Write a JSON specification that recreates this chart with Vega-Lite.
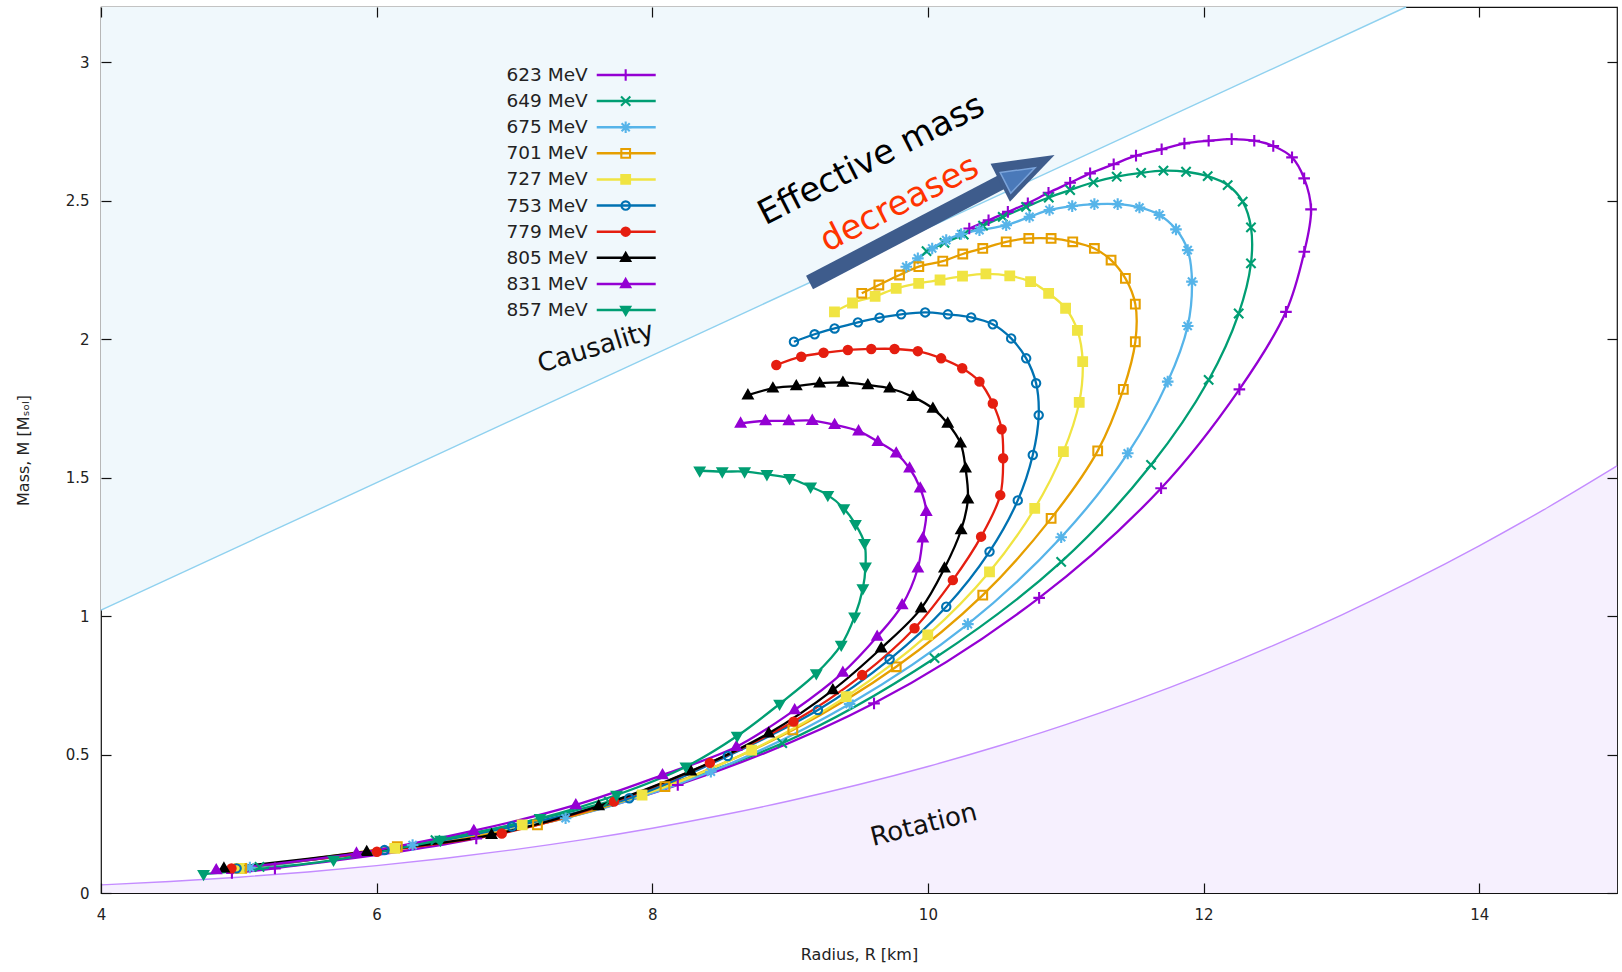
{
  "$schema": "https://vega.github.io/schema/vega-lite/v6.json",
  "width": 1516,
  "height": 886,
  "autosize": {"type": "none"},
  "padding": {"left": 101, "top": 7, "right": 5, "bottom": 79},
  "background": "white",
  "config": {"view": {"stroke": "#111", "strokeWidth": 1.2}, "font": "DejaVu Sans"},
  "datasets": {
    "one": [{"k": 1}],
    "causality": [{"R": 4, "M": 1.022}, {"R": 13.47, "M": 3.2}],
    "rotation": [
      {"R": 4, "M": 0.0292}, {"R": 4.5, "M": 0.0416}, {"R": 5, "M": 0.0571}, {"R": 5.5, "M": 0.076},
      {"R": 6, "M": 0.0987}, {"R": 6.5, "M": 0.1255}, {"R": 7, "M": 0.1568}, {"R": 7.5, "M": 0.1928},
      {"R": 8, "M": 0.234}, {"R": 8.5, "M": 0.2807}, {"R": 9, "M": 0.3332}, {"R": 9.5, "M": 0.3918},
      {"R": 10, "M": 0.457}, {"R": 10.5, "M": 0.529}, {"R": 11, "M": 0.6083}, {"R": 11.5, "M": 0.695},
      {"R": 12, "M": 0.7897}, {"R": 12.5, "M": 0.8926}, {"R": 13, "M": 1.004}, {"R": 13.5, "M": 1.1244},
      {"R": 14, "M": 1.254}, {"R": 14.5, "M": 1.3932}, {"R": 15, "M": 1.5424}
    ],
    "legend": [
      {"eos": "623 MeV"}, {"eos": "649 MeV"}, {"eos": "675 MeV"}, {"eos": "701 MeV"}, {"eos": "727 MeV"},
      {"eos": "753 MeV"}, {"eos": "779 MeV"}, {"eos": "805 MeV"}, {"eos": "831 MeV"}, {"eos": "857 MeV"}
    ],
    "curves": [
      {"eos": "623 MeV", "i": 0, "R": 4.95, "M": 0.072},
      {"eos": "623 MeV", "i": 1, "R": 5.262, "M": 0.089},
      {"eos": "623 MeV", "i": 2, "R": 6.723, "M": 0.197},
      {"eos": "623 MeV", "i": 3, "R": 8.185, "M": 0.39},
      {"eos": "623 MeV", "i": 4, "R": 9.609, "M": 0.685},
      {"eos": "623 MeV", "i": 5, "R": 10.807, "M": 1.066},
      {"eos": "623 MeV", "i": 6, "R": 11.692, "M": 1.462},
      {"eos": "623 MeV", "i": 7, "R": 12.26, "M": 1.819},
      {"eos": "623 MeV", "i": 8, "R": 12.598, "M": 2.099},
      {"eos": "623 MeV", "i": 9, "R": 12.731, "M": 2.316},
      {"eos": "623 MeV", "i": 10, "R": 12.78, "M": 2.469},
      {"eos": "623 MeV", "i": 11, "R": 12.73, "M": 2.581},
      {"eos": "623 MeV", "i": 12, "R": 12.642, "M": 2.657},
      {"eos": "623 MeV", "i": 13, "R": 12.506, "M": 2.698},
      {"eos": "623 MeV", "i": 14, "R": 12.368, "M": 2.717},
      {"eos": "623 MeV", "i": 15, "R": 12.204, "M": 2.723},
      {"eos": "623 MeV", "i": 16, "R": 12.037, "M": 2.717},
      {"eos": "623 MeV", "i": 17, "R": 11.861, "M": 2.707},
      {"eos": "623 MeV", "i": 18, "R": 11.696, "M": 2.686},
      {"eos": "623 MeV", "i": 19, "R": 11.51, "M": 2.663},
      {"eos": "623 MeV", "i": 20, "R": 11.348, "M": 2.632},
      {"eos": "623 MeV", "i": 21, "R": 11.177, "M": 2.599},
      {"eos": "623 MeV", "i": 22, "R": 11.032, "M": 2.565},
      {"eos": "623 MeV", "i": 23, "R": 10.875, "M": 2.529},
      {"eos": "623 MeV", "i": 24, "R": 10.725, "M": 2.491},
      {"eos": "623 MeV", "i": 25, "R": 10.58, "M": 2.46},
      {"eos": "623 MeV", "i": 26, "R": 10.44, "M": 2.43},
      {"eos": "623 MeV", "i": 27, "R": 10.3, "M": 2.4},

      {"eos": "649 MeV", "i": 0, "R": 5.15, "M": 0.094},
      {"eos": "649 MeV", "i": 1, "R": 6.427, "M": 0.191},
      {"eos": "649 MeV", "i": 2, "R": 7.685, "M": 0.33},
      {"eos": "649 MeV", "i": 3, "R": 8.943, "M": 0.541},
      {"eos": "649 MeV", "i": 4, "R": 10.048, "M": 0.848},
      {"eos": "649 MeV", "i": 5, "R": 10.967, "M": 1.196},
      {"eos": "649 MeV", "i": 6, "R": 11.619, "M": 1.546},
      {"eos": "649 MeV", "i": 7, "R": 12.037, "M": 1.853},
      {"eos": "649 MeV", "i": 8, "R": 12.255, "M": 2.093},
      {"eos": "649 MeV", "i": 9, "R": 12.344, "M": 2.274},
      {"eos": "649 MeV", "i": 10, "R": 12.344, "M": 2.404},
      {"eos": "649 MeV", "i": 11, "R": 12.284, "M": 2.497},
      {"eos": "649 MeV", "i": 12, "R": 12.175, "M": 2.557},
      {"eos": "649 MeV", "i": 13, "R": 12.03, "M": 2.589},
      {"eos": "649 MeV", "i": 14, "R": 11.873, "M": 2.605},
      {"eos": "649 MeV", "i": 15, "R": 11.709, "M": 2.609},
      {"eos": "649 MeV", "i": 16, "R": 11.547, "M": 2.601},
      {"eos": "649 MeV", "i": 17, "R": 11.37, "M": 2.587},
      {"eos": "649 MeV", "i": 18, "R": 11.201, "M": 2.567},
      {"eos": "649 MeV", "i": 19, "R": 11.032, "M": 2.539},
      {"eos": "649 MeV", "i": 20, "R": 10.877, "M": 2.512},
      {"eos": "649 MeV", "i": 21, "R": 10.712, "M": 2.478},
      {"eos": "649 MeV", "i": 22, "R": 10.543, "M": 2.442},
      {"eos": "649 MeV", "i": 23, "R": 10.4, "M": 2.41},
      {"eos": "649 MeV", "i": 24, "R": 10.26, "M": 2.378},
      {"eos": "649 MeV", "i": 25, "R": 10.12, "M": 2.348},
      {"eos": "649 MeV", "i": 26, "R": 9.99, "M": 2.318},

      {"eos": "675 MeV", "i": 0, "R": 5.08, "M": 0.092},
      {"eos": "675 MeV", "i": 1, "R": 6.261, "M": 0.173},
      {"eos": "675 MeV", "i": 2, "R": 7.371, "M": 0.27},
      {"eos": "675 MeV", "i": 3, "R": 8.425, "M": 0.438},
      {"eos": "675 MeV", "i": 4, "R": 9.432, "M": 0.683},
      {"eos": "675 MeV", "i": 5, "R": 10.29, "M": 0.971},
      {"eos": "675 MeV", "i": 6, "R": 10.967, "M": 1.285},
      {"eos": "675 MeV", "i": 7, "R": 11.45, "M": 1.588},
      {"eos": "675 MeV", "i": 8, "R": 11.74, "M": 1.847},
      {"eos": "675 MeV", "i": 9, "R": 11.885, "M": 2.048},
      {"eos": "675 MeV", "i": 10, "R": 11.916, "M": 2.208},
      {"eos": "675 MeV", "i": 11, "R": 11.885, "M": 2.322},
      {"eos": "675 MeV", "i": 12, "R": 11.8, "M": 2.397},
      {"eos": "675 MeV", "i": 13, "R": 11.68, "M": 2.449},
      {"eos": "675 MeV", "i": 14, "R": 11.535, "M": 2.476},
      {"eos": "675 MeV", "i": 15, "R": 11.377, "M": 2.488},
      {"eos": "675 MeV", "i": 16, "R": 11.208, "M": 2.488},
      {"eos": "675 MeV", "i": 17, "R": 11.047, "M": 2.481},
      {"eos": "675 MeV", "i": 18, "R": 10.882, "M": 2.467},
      {"eos": "675 MeV", "i": 19, "R": 10.737, "M": 2.442},
      {"eos": "675 MeV", "i": 20, "R": 10.568, "M": 2.412},
      {"eos": "675 MeV", "i": 21, "R": 10.374, "M": 2.394},
      {"eos": "675 MeV", "i": 22, "R": 10.241, "M": 2.38},
      {"eos": "675 MeV", "i": 23, "R": 10.133, "M": 2.358},
      {"eos": "675 MeV", "i": 24, "R": 10.031, "M": 2.328},
      {"eos": "675 MeV", "i": 25, "R": 9.927, "M": 2.292},
      {"eos": "675 MeV", "i": 26, "R": 9.843, "M": 2.262},

      {"eos": "701 MeV", "i": 0, "R": 5.021, "M": 0.089},
      {"eos": "701 MeV", "i": 1, "R": 6.15, "M": 0.167},
      {"eos": "701 MeV", "i": 2, "R": 7.167, "M": 0.246},
      {"eos": "701 MeV", "i": 3, "R": 8.092, "M": 0.384},
      {"eos": "701 MeV", "i": 4, "R": 9.02, "M": 0.589},
      {"eos": "701 MeV", "i": 5, "R": 9.77, "M": 0.817},
      {"eos": "701 MeV", "i": 6, "R": 10.398, "M": 1.076},
      {"eos": "701 MeV", "i": 7, "R": 10.894, "M": 1.353},
      {"eos": "701 MeV", "i": 8, "R": 11.232, "M": 1.597},
      {"eos": "701 MeV", "i": 9, "R": 11.418, "M": 1.819},
      {"eos": "701 MeV", "i": 10, "R": 11.505, "M": 1.991},
      {"eos": "701 MeV", "i": 11, "R": 11.505, "M": 2.127},
      {"eos": "701 MeV", "i": 12, "R": 11.433, "M": 2.22},
      {"eos": "701 MeV", "i": 13, "R": 11.329, "M": 2.286},
      {"eos": "701 MeV", "i": 14, "R": 11.208, "M": 2.328},
      {"eos": "701 MeV", "i": 15, "R": 11.051, "M": 2.352},
      {"eos": "701 MeV", "i": 16, "R": 10.894, "M": 2.364},
      {"eos": "701 MeV", "i": 17, "R": 10.732, "M": 2.364},
      {"eos": "701 MeV", "i": 18, "R": 10.568, "M": 2.352},
      {"eos": "701 MeV", "i": 19, "R": 10.398, "M": 2.328},
      {"eos": "701 MeV", "i": 20, "R": 10.253, "M": 2.308},
      {"eos": "701 MeV", "i": 21, "R": 10.108, "M": 2.282},
      {"eos": "701 MeV", "i": 22, "R": 9.934, "M": 2.262},
      {"eos": "701 MeV", "i": 23, "R": 9.794, "M": 2.232},
      {"eos": "701 MeV", "i": 24, "R": 9.644, "M": 2.196},
      {"eos": "701 MeV", "i": 25, "R": 9.52, "M": 2.166},

      {"eos": "727 MeV", "i": 0, "R": 5.003, "M": 0.089},
      {"eos": "727 MeV", "i": 1, "R": 6.131, "M": 0.161},
      {"eos": "727 MeV", "i": 2, "R": 7.056, "M": 0.246},
      {"eos": "727 MeV", "i": 3, "R": 7.926, "M": 0.354},
      {"eos": "727 MeV", "i": 4, "R": 8.721, "M": 0.516},
      {"eos": "727 MeV", "i": 5, "R": 9.407, "M": 0.709},
      {"eos": "727 MeV", "i": 6, "R": 9.999, "M": 0.932},
      {"eos": "727 MeV", "i": 7, "R": 10.447, "M": 1.16},
      {"eos": "727 MeV", "i": 8, "R": 10.775, "M": 1.389},
      {"eos": "727 MeV", "i": 9, "R": 10.983, "M": 1.594},
      {"eos": "727 MeV", "i": 10, "R": 11.098, "M": 1.772},
      {"eos": "727 MeV", "i": 11, "R": 11.123, "M": 1.919},
      {"eos": "727 MeV", "i": 12, "R": 11.085, "M": 2.032},
      {"eos": "727 MeV", "i": 13, "R": 10.999, "M": 2.112},
      {"eos": "727 MeV", "i": 14, "R": 10.876, "M": 2.166},
      {"eos": "727 MeV", "i": 15, "R": 10.745, "M": 2.208},
      {"eos": "727 MeV", "i": 16, "R": 10.594, "M": 2.229},
      {"eos": "727 MeV", "i": 17, "R": 10.421, "M": 2.236},
      {"eos": "727 MeV", "i": 18, "R": 10.251, "M": 2.228},
      {"eos": "727 MeV", "i": 19, "R": 10.088, "M": 2.214},
      {"eos": "727 MeV", "i": 20, "R": 9.933, "M": 2.202},
      {"eos": "727 MeV", "i": 21, "R": 9.77, "M": 2.184},
      {"eos": "727 MeV", "i": 22, "R": 9.617, "M": 2.155},
      {"eos": "727 MeV", "i": 23, "R": 9.453, "M": 2.131},
      {"eos": "727 MeV", "i": 24, "R": 9.322, "M": 2.099},

      {"eos": "753 MeV", "i": 0, "R": 4.984, "M": 0.089},
      {"eos": "753 MeV", "i": 1, "R": 6.057, "M": 0.155},
      {"eos": "753 MeV", "i": 2, "R": 6.982, "M": 0.24},
      {"eos": "753 MeV", "i": 3, "R": 7.833, "M": 0.342},
      {"eos": "753 MeV", "i": 4, "R": 8.548, "M": 0.495},
      {"eos": "753 MeV", "i": 5, "R": 9.202, "M": 0.661},
      {"eos": "753 MeV", "i": 6, "R": 9.722, "M": 0.844},
      {"eos": "753 MeV", "i": 7, "R": 10.133, "M": 1.034},
      {"eos": "753 MeV", "i": 8, "R": 10.447, "M": 1.233},
      {"eos": "753 MeV", "i": 9, "R": 10.652, "M": 1.418},
      {"eos": "753 MeV", "i": 10, "R": 10.761, "M": 1.582},
      {"eos": "753 MeV", "i": 11, "R": 10.804, "M": 1.726},
      {"eos": "753 MeV", "i": 12, "R": 10.785, "M": 1.841},
      {"eos": "753 MeV", "i": 13, "R": 10.713, "M": 1.931},
      {"eos": "753 MeV", "i": 14, "R": 10.604, "M": 2.003},
      {"eos": "753 MeV", "i": 15, "R": 10.471, "M": 2.054},
      {"eos": "753 MeV", "i": 16, "R": 10.314, "M": 2.079},
      {"eos": "753 MeV", "i": 17, "R": 10.145, "M": 2.09},
      {"eos": "753 MeV", "i": 18, "R": 9.98, "M": 2.097},
      {"eos": "753 MeV", "i": 19, "R": 9.806, "M": 2.09},
      {"eos": "753 MeV", "i": 20, "R": 9.649, "M": 2.078},
      {"eos": "753 MeV", "i": 21, "R": 9.492, "M": 2.061},
      {"eos": "753 MeV", "i": 22, "R": 9.323, "M": 2.039},
      {"eos": "753 MeV", "i": 23, "R": 9.178, "M": 2.018},
      {"eos": "753 MeV", "i": 24, "R": 9.028, "M": 1.991},

      {"eos": "779 MeV", "i": 0, "R": 4.947, "M": 0.089},
      {"eos": "779 MeV", "i": 1, "R": 6.002, "M": 0.149},
      {"eos": "779 MeV", "i": 2, "R": 6.908, "M": 0.215},
      {"eos": "779 MeV", "i": 3, "R": 7.722, "M": 0.33},
      {"eos": "779 MeV", "i": 4, "R": 8.418, "M": 0.47},
      {"eos": "779 MeV", "i": 5, "R": 9.025, "M": 0.619},
      {"eos": "779 MeV", "i": 6, "R": 9.523, "M": 0.787},
      {"eos": "779 MeV", "i": 7, "R": 9.903, "M": 0.956},
      {"eos": "779 MeV", "i": 8, "R": 10.181, "M": 1.13},
      {"eos": "779 MeV", "i": 9, "R": 10.386, "M": 1.287},
      {"eos": "779 MeV", "i": 10, "R": 10.525, "M": 1.437},
      {"eos": "779 MeV", "i": 11, "R": 10.546, "M": 1.57},
      {"eos": "779 MeV", "i": 12, "R": 10.535, "M": 1.675},
      {"eos": "779 MeV", "i": 13, "R": 10.471, "M": 1.768},
      {"eos": "779 MeV", "i": 14, "R": 10.374, "M": 1.847},
      {"eos": "779 MeV", "i": 15, "R": 10.249, "M": 1.895},
      {"eos": "779 MeV", "i": 16, "R": 10.096, "M": 1.931},
      {"eos": "779 MeV", "i": 17, "R": 9.927, "M": 1.957},
      {"eos": "779 MeV", "i": 18, "R": 9.758, "M": 1.965},
      {"eos": "779 MeV", "i": 19, "R": 9.589, "M": 1.965},
      {"eos": "779 MeV", "i": 20, "R": 9.419, "M": 1.961},
      {"eos": "779 MeV", "i": 21, "R": 9.243, "M": 1.951},
      {"eos": "779 MeV", "i": 22, "R": 9.081, "M": 1.937},
      {"eos": "779 MeV", "i": 23, "R": 8.9, "M": 1.907},

      {"eos": "805 MeV", "i": 0, "R": 4.892, "M": 0.089},
      {"eos": "805 MeV", "i": 1, "R": 5.928, "M": 0.149},
      {"eos": "805 MeV", "i": 2, "R": 6.834, "M": 0.21},
      {"eos": "805 MeV", "i": 3, "R": 7.611, "M": 0.314},
      {"eos": "805 MeV", "i": 4, "R": 8.28, "M": 0.44},
      {"eos": "805 MeV", "i": 5, "R": 8.845, "M": 0.577},
      {"eos": "805 MeV", "i": 6, "R": 9.31, "M": 0.733},
      {"eos": "805 MeV", "i": 7, "R": 9.661, "M": 0.884},
      {"eos": "805 MeV", "i": 8, "R": 9.951, "M": 1.028},
      {"eos": "805 MeV", "i": 9, "R": 10.12, "M": 1.173},
      {"eos": "805 MeV", "i": 10, "R": 10.241, "M": 1.311},
      {"eos": "805 MeV", "i": 11, "R": 10.29, "M": 1.422},
      {"eos": "805 MeV", "i": 12, "R": 10.273, "M": 1.534},
      {"eos": "805 MeV", "i": 13, "R": 10.237, "M": 1.624},
      {"eos": "805 MeV", "i": 14, "R": 10.144, "M": 1.696},
      {"eos": "805 MeV", "i": 15, "R": 10.036, "M": 1.75},
      {"eos": "805 MeV", "i": 16, "R": 9.891, "M": 1.792},
      {"eos": "805 MeV", "i": 17, "R": 9.722, "M": 1.823},
      {"eos": "805 MeV", "i": 18, "R": 9.564, "M": 1.835},
      {"eos": "805 MeV", "i": 19, "R": 9.383, "M": 1.844},
      {"eos": "805 MeV", "i": 20, "R": 9.214, "M": 1.841},
      {"eos": "805 MeV", "i": 21, "R": 9.045, "M": 1.831},
      {"eos": "805 MeV", "i": 22, "R": 8.875, "M": 1.823},
      {"eos": "805 MeV", "i": 23, "R": 8.694, "M": 1.798},

      {"eos": "831 MeV", "i": 0, "R": 4.836, "M": 0.083},
      {"eos": "831 MeV", "i": 1, "R": 5.854, "M": 0.143},
      {"eos": "831 MeV", "i": 2, "R": 6.705, "M": 0.225},
      {"eos": "831 MeV", "i": 3, "R": 7.445, "M": 0.318},
      {"eos": "831 MeV", "i": 4, "R": 8.074, "M": 0.426},
      {"eos": "831 MeV", "i": 5, "R": 8.61, "M": 0.528},
      {"eos": "831 MeV", "i": 6, "R": 9.033, "M": 0.661},
      {"eos": "831 MeV", "i": 7, "R": 9.383, "M": 0.796},
      {"eos": "831 MeV", "i": 8, "R": 9.632, "M": 0.926},
      {"eos": "831 MeV", "i": 9, "R": 9.813, "M": 1.04},
      {"eos": "831 MeV", "i": 10, "R": 9.927, "M": 1.173},
      {"eos": "831 MeV", "i": 11, "R": 9.963, "M": 1.281},
      {"eos": "831 MeV", "i": 12, "R": 9.988, "M": 1.377},
      {"eos": "831 MeV", "i": 13, "R": 9.944, "M": 1.462},
      {"eos": "831 MeV", "i": 14, "R": 9.867, "M": 1.534},
      {"eos": "831 MeV", "i": 15, "R": 9.77, "M": 1.588},
      {"eos": "831 MeV", "i": 16, "R": 9.637, "M": 1.63},
      {"eos": "831 MeV", "i": 17, "R": 9.497, "M": 1.668},
      {"eos": "831 MeV", "i": 18, "R": 9.323, "M": 1.691},
      {"eos": "831 MeV", "i": 19, "R": 9.161, "M": 1.706},
      {"eos": "831 MeV", "i": 20, "R": 8.991, "M": 1.705},
      {"eos": "831 MeV", "i": 21, "R": 8.822, "M": 1.705},
      {"eos": "831 MeV", "i": 22, "R": 8.641, "M": 1.696},

      {"eos": "857 MeV", "i": 0, "R": 4.744, "M": 0.068},
      {"eos": "857 MeV", "i": 1, "R": 5.687, "M": 0.119},
      {"eos": "857 MeV", "i": 2, "R": 6.464, "M": 0.191},
      {"eos": "857 MeV", "i": 3, "R": 7.186, "M": 0.27},
      {"eos": "857 MeV", "i": 4, "R": 7.741, "M": 0.354},
      {"eos": "857 MeV", "i": 5, "R": 8.244, "M": 0.456},
      {"eos": "857 MeV", "i": 6, "R": 8.616, "M": 0.567},
      {"eos": "857 MeV", "i": 7, "R": 8.924, "M": 0.683},
      {"eos": "857 MeV", "i": 8, "R": 9.19, "M": 0.793},
      {"eos": "857 MeV", "i": 9, "R": 9.371, "M": 0.896},
      {"eos": "857 MeV", "i": 10, "R": 9.468, "M": 0.998},
      {"eos": "857 MeV", "i": 11, "R": 9.528, "M": 1.1},
      {"eos": "857 MeV", "i": 12, "R": 9.547, "M": 1.178},
      {"eos": "857 MeV", "i": 13, "R": 9.54, "M": 1.263},
      {"eos": "857 MeV", "i": 14, "R": 9.474, "M": 1.332},
      {"eos": "857 MeV", "i": 15, "R": 9.39, "M": 1.389},
      {"eos": "857 MeV", "i": 16, "R": 9.274, "M": 1.437},
      {"eos": "857 MeV", "i": 17, "R": 9.149, "M": 1.467},
      {"eos": "857 MeV", "i": 18, "R": 8.996, "M": 1.498},
      {"eos": "857 MeV", "i": 19, "R": 8.832, "M": 1.512},
      {"eos": "857 MeV", "i": 20, "R": 8.67, "M": 1.522},
      {"eos": "857 MeV", "i": 21, "R": 8.508, "M": 1.522},
      {"eos": "857 MeV", "i": 22, "R": 8.344, "M": 1.525}
    ]
  },
  "resolve": {"scale": {"y": "independent"}},
  "layer": [
    {
      "resolve": {"axis": {"x": "independent", "y": "independent"}},
      "layer": [
        {
          "data": {"name": "causality"},
          "mark": {"type": "area", "color": "#f0f8fc"},
          "encoding": {
            "x": {"field": "R", "type": "quantitative", "scale": {"domain": [4, 15], "nice": false, "zero": false},
              "axis": {"orient": "bottom", "values": [4, 6, 8, 10, 12, 14], "tickSize": -10, "tickColor": "#111", "tickWidth": 1.2,
                "domain": false, "grid": false, "zindex": 1, "labelFont": "DejaVu Sans", "labelFontSize": 15, "labelColor": "#222",
                "labelPadding": 24, "labelFlush": false, "labelOverlap": false,
                "title": "Radius, R [km]", "titleFont": "DejaVu Sans", "titleFontSize": 16, "titleFontWeight": "normal",
                "titleColor": "#222", "titlePadding": 24}},
            "y": {"field": "M", "type": "quantitative", "scale": {"domain": [0, 3.2], "nice": false, "zero": false},
              "axis": {"orient": "left", "values": [0, 0.5, 1, 1.5, 2, 2.5, 3], "format": "~g", "tickSize": -10, "tickColor": "#111",
                "tickWidth": 1.2, "domain": false, "grid": false, "zindex": 1, "labelFont": "DejaVu Sans", "labelFontSize": 15,
                "labelColor": "#222", "labelPadding": 22, "labelFlush": false, "labelOverlap": false,
                "title": "Mass, M [Mₛₒₗ]", "titleFont": "DejaVu Sans", "titleFontSize": 16, "titleFontWeight": "normal",
                "titleColor": "#222", "titlePadding": 34}},
            "y2": {"datum": 3.2}
          }
        },
        {
          "data": {"name": "causality"},
          "mark": {"type": "line", "color": "#8fd1ef", "strokeWidth": 1.4},
          "encoding": {
            "x": {"field": "R", "type": "quantitative",
              "axis": {"orient": "top", "values": [4, 6, 8, 10, 12, 14], "tickSize": -10, "tickColor": "#111", "tickWidth": 1.2,
                "domain": false, "grid": false, "zindex": 1, "labels": false, "title": null}},
            "y": {"field": "M", "type": "quantitative",
              "axis": {"orient": "right", "values": [0, 0.5, 1, 1.5, 2, 2.5, 3], "tickSize": -10, "tickColor": "#111",
                "tickWidth": 1.2, "domain": false, "grid": false, "zindex": 1, "labels": false, "title": null}}
          }
        },
        {
          "data": {"name": "rotation"},
          "mark": {"type": "area", "color": "#f6f0fe"},
          "encoding": {
            "x": {"field": "R", "type": "quantitative", "axis": null},
            "y": {"field": "M", "type": "quantitative", "axis": null},
            "y2": {"datum": 0}
          }
        },
        {
          "data": {"name": "rotation"},
          "mark": {"type": "line", "color": "#c48cff", "strokeWidth": 1.4, "interpolate": "monotone"},
          "encoding": {
            "x": {"field": "R", "type": "quantitative", "axis": null},
            "y": {"field": "M", "type": "quantitative", "axis": null}
          }
        },
        {
          "data": {"name": "curves"},
          "mark": {"type": "line", "strokeWidth": 2.3, "interpolate": "catmull-rom", "strokeJoin": "round"},
          "encoding": {
            "x": {"field": "R", "type": "quantitative", "axis": null},
            "y": {"field": "M", "type": "quantitative", "axis": null},
            "order": {"field": "i", "type": "quantitative"},
            "stroke": {"field": "eos", "type": "nominal", "legend": null,
              "scale": {"domain": ["623 MeV", "649 MeV", "675 MeV", "701 MeV", "727 MeV", "753 MeV", "779 MeV", "805 MeV", "831 MeV", "857 MeV"],
                "range": ["#9400d3", "#009e73", "#56b4e9", "#e69f00", "#f0e442", "#0072b2", "#e51e10", "#000000", "#9400d3", "#009e73"]}}
          }
        },
        {
          "data": {"name": "curves"},
          "mark": {"type": "point", "size": 135, "strokeWidth": 2.1, "opacity": 1, "filled": false},
          "encoding": {
            "x": {"field": "R", "type": "quantitative", "axis": null},
            "y": {"field": "M", "type": "quantitative", "axis": null},
            "stroke": {"field": "eos", "type": "nominal", "legend": null},
            "shape": {"field": "eos", "type": "nominal", "legend": null,
              "scale": {"domain": ["623 MeV", "649 MeV", "675 MeV", "701 MeV", "727 MeV", "753 MeV", "779 MeV", "805 MeV", "831 MeV", "857 MeV"],
                "range": [
                  "M-1,0L1,0M0,-1L0,1",
                  "M-0.8,-0.8L0.8,0.8M-0.8,0.8L0.8,-0.8",
                  "M-1,0L1,0M0,-1L0,1M-0.7,-0.7L0.7,0.7M-0.7,0.7L0.7,-0.7",
                  "M-0.75,-0.75L0.75,-0.75L0.75,0.75L-0.75,0.75Z",
                  "M-0.75,-0.75L0.75,-0.75L0.75,0.75L-0.75,0.75Z",
                  "M0.72,0A0.72,0.72,0,1,1,-0.72,0A0.72,0.72,0,1,1,0.72,0Z",
                  "M0.72,0A0.72,0.72,0,1,1,-0.72,0A0.72,0.72,0,1,1,0.72,0Z",
                  "M0,-0.85L0.8,0.55L-0.8,0.55Z",
                  "M0,-0.85L0.8,0.55L-0.8,0.55Z",
                  "M0,0.85L0.8,-0.55L-0.8,-0.55Z"
                ]}},
            "fill": {"field": "eos", "type": "nominal", "legend": null,
              "scale": {"domain": ["623 MeV", "649 MeV", "675 MeV", "701 MeV", "727 MeV", "753 MeV", "779 MeV", "805 MeV", "831 MeV", "857 MeV"],
                "range": ["transparent", "transparent", "transparent", "transparent", "#f0e442", "transparent", "#e51e10", "#000000", "#9400d3", "#009e73"]}}
          }
        },
        {
          "data": {"name": "one"},
          "mark": {"type": "text", "text": "Causality", "font": "DejaVu Sans", "fontSize": 26, "angle": 343, "color": "#111", "align": "center", "baseline": "middle"},
          "encoding": {"x": {"datum": 7.59, "type": "quantitative", "axis": null}, "y": {"datum": 1.97, "type": "quantitative", "axis": null}}
        },
        {
          "data": {"name": "one"},
          "mark": {"type": "text", "text": "Rotation", "font": "DejaVu Sans", "fontSize": 26, "angle": 346, "color": "#111", "align": "center", "baseline": "middle"},
          "encoding": {"x": {"datum": 9.97, "type": "quantitative", "axis": null}, "y": {"datum": 0.2456, "type": "quantitative", "axis": null}}
        },
        {
          "data": {"name": "one"},
          "mark": {"type": "rule", "color": "#3e5c8c", "strokeWidth": 15, "strokeCap": "butt"},
          "encoding": {
            "x": {"datum": 9.141, "type": "quantitative", "axis": null}, "y": {"datum": 2.205, "type": "quantitative", "axis": null},
            "x2": {"datum": 10.55}, "y2": {"datum": 2.572}
          }
        },
        {
          "data": {"name": "one"},
          "mark": {"type": "point", "shape": "M-1,-0.7L1,0L-1,0.7Z", "size": 3721, "angle": 333, "filled": true, "color": "#3e5c8c", "opacity": 1},
          "encoding": {"x": {"datum": 10.722, "type": "quantitative", "axis": null}, "y": {"datum": 2.6155, "type": "quantitative", "axis": null}}
        },
        {
          "data": {"name": "one"},
          "mark": {"type": "point", "shape": "M-1,-0.7L1,0L-1,0.7Z", "size": 1100, "angle": 333, "filled": true, "fill": "#4a79b9", "stroke": "#7aa3da", "strokeWidth": 1.5, "opacity": 1},
          "encoding": {"x": {"datum": 10.67, "type": "quantitative", "axis": null}, "y": {"datum": 2.592, "type": "quantitative", "axis": null}}
        },
        {
          "data": {"name": "one"},
          "mark": {"type": "text", "text": "Effective mass", "font": "DejaVu Sans", "fontSize": 34, "angle": 333, "color": "#000", "align": "center", "baseline": "middle"},
          "encoding": {"x": {"datum": 9.591, "type": "quantitative", "axis": null}, "y": {"datum": 2.647, "type": "quantitative", "axis": null}}
        },
        {
          "data": {"name": "one"},
          "mark": {"type": "text", "text": "decreases", "font": "DejaVu Sans", "fontSize": 34, "angle": 333, "color": "#ff3300", "align": "center", "baseline": "middle"},
          "encoding": {"x": {"datum": 9.794, "type": "quantitative", "axis": null}, "y": {"datum": 2.488, "type": "quantitative", "axis": null}}
        }
      ]
    },
    {
      "data": {"name": "legend"},
      "layer": [
        {
          "mark": {"type": "text", "align": "right", "baseline": "middle", "font": "DejaVu Sans", "fontSize": 18.5, "color": "#222"},
          "encoding": {
            "x": {"datum": 7.532, "type": "quantitative", "axis": null},
            "y": {"field": "eos", "type": "nominal", "axis": null, "scale": {"type": "point", "range": [68, 303], "padding": 0}},
            "text": {"field": "eos"}
          }
        },
        {
          "mark": {"type": "rule", "strokeWidth": 2.5},
          "encoding": {
            "x": {"datum": 7.597, "type": "quantitative", "axis": null},
            "x2": {"datum": 8.025},
            "y": {"field": "eos", "type": "nominal", "axis": null},
            "stroke": {"field": "eos", "type": "nominal", "legend": null}
          }
        },
        {
          "mark": {"type": "point", "size": 135, "strokeWidth": 2.1, "opacity": 1, "filled": false},
          "encoding": {
            "x": {"datum": 7.807, "type": "quantitative", "axis": null},
            "y": {"field": "eos", "type": "nominal", "axis": null},
            "stroke": {"field": "eos", "type": "nominal", "legend": null},
            "shape": {"field": "eos", "type": "nominal", "legend": null},
            "fill": {"field": "eos", "type": "nominal", "legend": null}
          }
        }
      ]
    }
  ]
}
